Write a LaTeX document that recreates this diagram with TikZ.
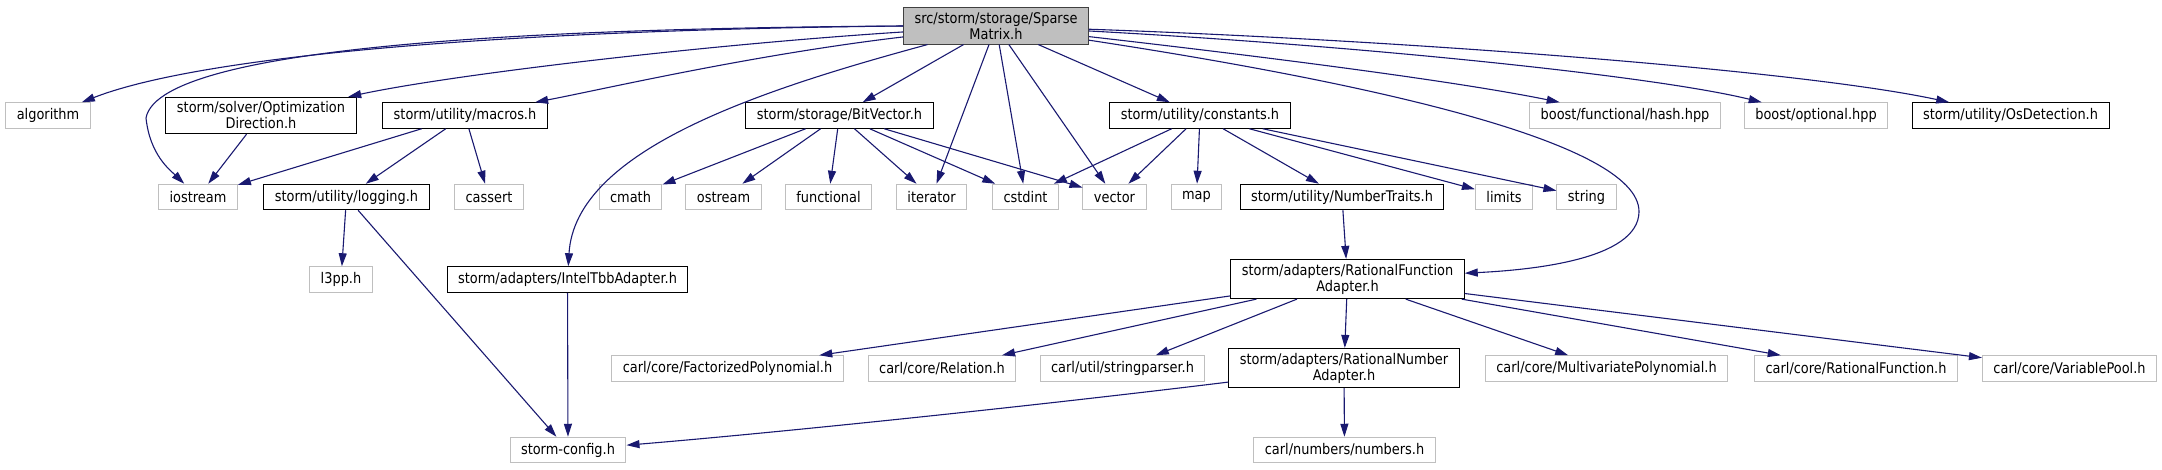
\documentclass[tikz,border=0pt]{standalone}
\usepackage{fontspec}
\setmainfont{DejaVu Sans}[FakeStretch=0.88]
\usetikzlibrary{arrows.meta}
\definecolor{edgeblue}{RGB}{25,25,112}
\definecolor{extgray}{RGB}{191,191,191}
\definecolor{rootfill}{RGB}{191,191,191}
\definecolor{rootline}{RGB}{64,64,64}

\tikzset{
  hdr/.style={draw=black, line width=1pt, fill=white, inner xsep=11pt, inner ysep=4.5pt,
    minimum height=25.5pt, align=center, font=\fontsize{14.7}{16}\selectfont},
  ext/.style={hdr, draw=extgray},
  root/.style={hdr, fill=rootfill, draw=rootline},
  dep/.style={draw=edgeblue, line width=1.1pt, -{Triangle[length=13pt,width=8pt]}}
}

\begin{document}
\begin{tikzpicture}[x=1pt, y=-1pt]
    \useasboundingbox (0,0) rectangle (2162,469);

    % Root file
    \node[root] (sm) at (996,26) {src/storm/storage/Sparse\\Matrix.h};

    % First row
    \node[ext] (alg) at (48,115.5) {algorithm};
    \node[hdr] (optdir) at (261,115.5) {storm/solver/Optimization\\Direction.h};
    \node[hdr] (mac) at (465,115.5) {storm/utility/macros.h};
    \node[hdr] (bv) at (839.5,115.5) {storm/storage/BitVector.h};
    \node[hdr] (cons) at (1200,115.5) {storm/utility/constants.h};
    \node[ext] (hash) at (1625,115.5) {boost/functional/hash.hpp};
    \node[ext] (opt) at (1816,115.5) {boost/optional.hpp};
    \node[hdr] (osd) at (2010.5,115.5) {storm/utility/OsDetection.h};

    % Second row
    \node[ext] (ios) at (198,197) {iostream};
    \node[hdr] (log) at (346.5,197) {storm/utility/logging.h};
    \node[ext] (cass) at (489,197) {cassert};
    \node[ext] (cmath) at (630.5,197) {cmath};
    \node[ext] (ostr) at (723.5,197) {ostream};
    \node[ext] (func) at (828.5,197) {functional};
    \node[ext] (iter) at (931.5,197) {iterator};
    \node[ext] (cstd) at (1025.5,197) {cstdint};
    \node[ext] (vec) at (1114.5,197) {vector};
    \node[ext] (map) at (1196.5,197) {map};
    \node[hdr] (ntr) at (1342,197) {storm/utility/NumberTraits.h};
    \node[ext] (lim) at (1504,197) {limits};
    \node[ext] (str) at (1586.5,197) {string};

    % Third row
    \node[ext] (l3pp) at (341,279.5) {l3pp.h};
    \node[hdr] (itbb) at (567.5,279.5) {storm/adapters/IntelTbbAdapter.h};
    \node[hdr] (rfa) at (1347.5,279) {storm/adapters/RationalFunction\\Adapter.h};

    % Fourth row
    \node[ext] (fpoly) at (727.5,368.5) {carl/core/FactorizedPolynomial.h};
    \node[ext] (rel) at (942,368.5) {carl/core/Relation.h};
    \node[ext] (spar) at (1122.5,368.5) {carl/util/stringparser.h};
    \node[hdr] (rna) at (1344,368) {storm/adapters/RationalNumber\\Adapter.h};
    \node[ext] (mpoly) at (1606.5,368.5) {carl/core/MultivariatePolynomial.h};
    \node[ext] (rfun) at (1856,368.5) {carl/core/RationalFunction.h};
    \node[ext] (vpool) at (2069.5,368.5) {carl/core/VariablePool.h};

    % Bottom row
    \node[ext] (cfg) at (568,450) {storm-config.h};
    \node[ext] (num) at (1344.5,450) {carl/numbers/numbers.h};

    % Includes of the root file
    \draw[dep] (sm.west) .. controls (500,30) and (200,56) .. (alg);
    \draw[dep] (sm.west) .. controls (600,28) and (160,40) .. (146,118)
        .. controls (150,155) and (170,170) .. (ios);
    \draw[dep] (sm) .. controls (700,45) and (450,75) .. (optdir);
    \draw[dep] (sm) .. controls (750,55) and (600,90) .. (mac);
    \draw[dep] (sm) .. controls (760,90) and (575,150) .. (itbb);
    \foreach \dst in {bv, iter, cstd, vec, cons}
        \draw[dep] (sm) -- (\dst);
    \draw[dep] (sm) .. controls (1350,80) and (1640,140) .. (1639,212)
        .. controls (1638,260) and (1530,270) .. (rfa);
    \draw[dep] (sm) .. controls (1250,55) and (1450,80) .. (hash);
    \draw[dep] (sm) .. controls (1350,45) and (1650,75) .. (opt);
    \draw[dep] (sm) .. controls (1400,40) and (1800,70) .. (osd);

    % Nested includes
    \draw[dep] (optdir) -- (ios);
    \foreach \dst in {ios, log, cass}
        \draw[dep] (mac) -- (\dst);
    \foreach \dst in {l3pp, cfg}
        \draw[dep] (log) -- (\dst);
    \draw[dep] (itbb) -- (cfg);
    \foreach \dst in {cmath, ostr, func, iter, cstd, vec}
        \draw[dep] (bv) -- (\dst);
    \foreach \dst in {cstd, vec, map, ntr, lim, str}
        \draw[dep] (cons) -- (\dst);
    \draw[dep] (ntr) -- (rfa);
    \foreach \dst in {fpoly, rel, spar, rna, mpoly, rfun, vpool}
        \draw[dep] (rfa) -- (\dst);
    \draw[dep] (rna) -- (num);
    \draw[dep] (rna) .. controls (1000,410) and (750,435) .. (cfg);
\end{tikzpicture}
\end{document}
